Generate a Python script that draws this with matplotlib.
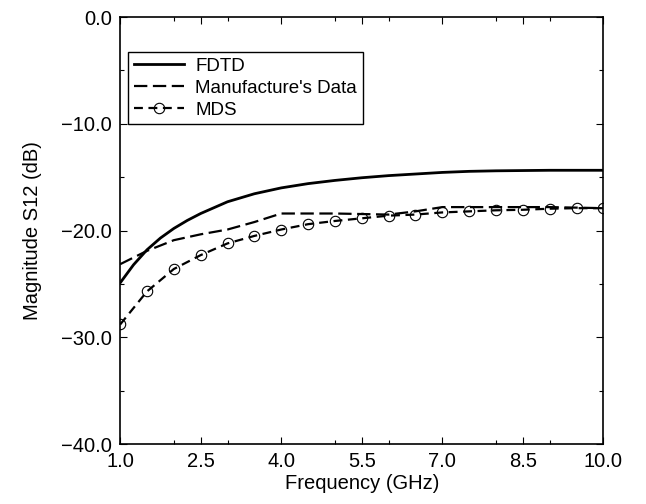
import matplotlib.pyplot as plt
from matplotlib.ticker import MultipleLocator

plt.rcParams['font.family'] = ['Liberation Sans', 'DejaVu Sans']

# --------------------------------
# DATA
# --------------------------------
fdtd_freq = [1.0, 1.25, 1.5, 1.75, 2.0, 2.25, 2.5, 3.0, 3.5, 4.0, 4.5, 5.0,
             5.5, 6.0, 6.5, 7.0, 7.5, 8.0, 9.0, 10.0]
fdtd_s12 = [-24.9, -23.2, -21.8, -20.7, -19.8, -19.05, -18.4, -17.3, -16.55,
            -16.0, -15.6, -15.3, -15.05, -14.85, -14.7, -14.55, -14.45, -14.4,
            -14.35, -14.35]

manu_freq = [1.0, 1.5, 2.0, 2.5, 3.0, 3.5, 4.0, 5.0, 6.0, 6.5, 7.0, 8.0,
             9.0, 10.0]
manu_s12 = [-23.15, -21.9, -20.9, -20.35, -19.9, -19.2, -18.4, -18.4, -18.5,
            -18.2, -17.8, -17.8, -17.8, -17.9]

mds_freq = [1.0, 1.5, 2.0, 2.5, 3.0, 3.5, 4.0, 4.5, 5.0, 5.5, 6.0, 6.5,
            7.0, 7.5, 8.0, 8.5, 9.0, 9.5, 10.0]
mds_s12 = [-28.8, -25.7, -23.6, -22.3, -21.2, -20.5, -19.9, -19.4, -19.1,
           -18.85, -18.6, -18.5, -18.3, -18.2, -18.1, -18.05, -17.95, -17.9,
           -17.9]

x_ticks = [1.0, 2.5, 4.0, 5.5, 7.0, 8.5, 10.0]
x_labels = ["1.0", "2.5", "4.0", "5.5", "7.0", "8.5", "10.0"]
y_ticks = [-40.0, -30.0, -20.0, -10.0, 0.0]
y_labels = ["\u221240.0", "\u221230.0", "\u221220.0", "\u221210.0", "0.0"]

# --------------------------------
# PLOT
# --------------------------------
fig = plt.figure(figsize=(6.46, 5.04), dpi=100)
ax = fig.add_axes([0.186, 0.119, 0.748, 0.847])

ax.plot(fdtd_freq, fdtd_s12, color='black', lw=2.0, label="FDTD")
ax.plot(manu_freq, manu_s12, color='black', lw=1.6, dashes=(6, 2.5),
        label="Manufacture's Data")
ax.plot(mds_freq, mds_s12, color='black', lw=1.6, dashes=(4, 2.5),
        marker='o', ms=7.5, mfc='none', mec='black', mew=0.8, label="MDS")

ax.set_xlim(1.0, 10.0)
ax.set_ylim(-40.0, 0.0)
ax.set_xticks(x_ticks)
ax.set_xticklabels(x_labels)
ax.set_yticks(y_ticks)
ax.set_yticklabels(y_labels)
ax.xaxis.set_minor_locator(MultipleLocator(1.0))
ax.yaxis.set_minor_locator(MultipleLocator(5.0))
ax.tick_params(which='both', direction='in', top=True, right=True,
               labelsize=14.5, width=0.8)
ax.tick_params(which='major', length=5, pad=6)
ax.tick_params(which='minor', length=3)
for s in ax.spines.values():
    s.set_linewidth(1.2)

ax.set_xlabel("Frequency (GHz)", fontsize=14.5, labelpad=2)
ax.set_ylabel("Magnitude S12 (dB)", fontsize=14.5, labelpad=14)

leg = ax.legend(loc='upper left', bbox_to_anchor=(0.016, 0.918),
                borderaxespad=0, fontsize=13.5, handlelength=2.7,
                handletextpad=0.6, labelspacing=0.25, borderpad=0.3,
                fancybox=False, framealpha=1, edgecolor='black')
leg.get_frame().set_linewidth(1.0)

plt.savefig("out.png")
plt.close()
